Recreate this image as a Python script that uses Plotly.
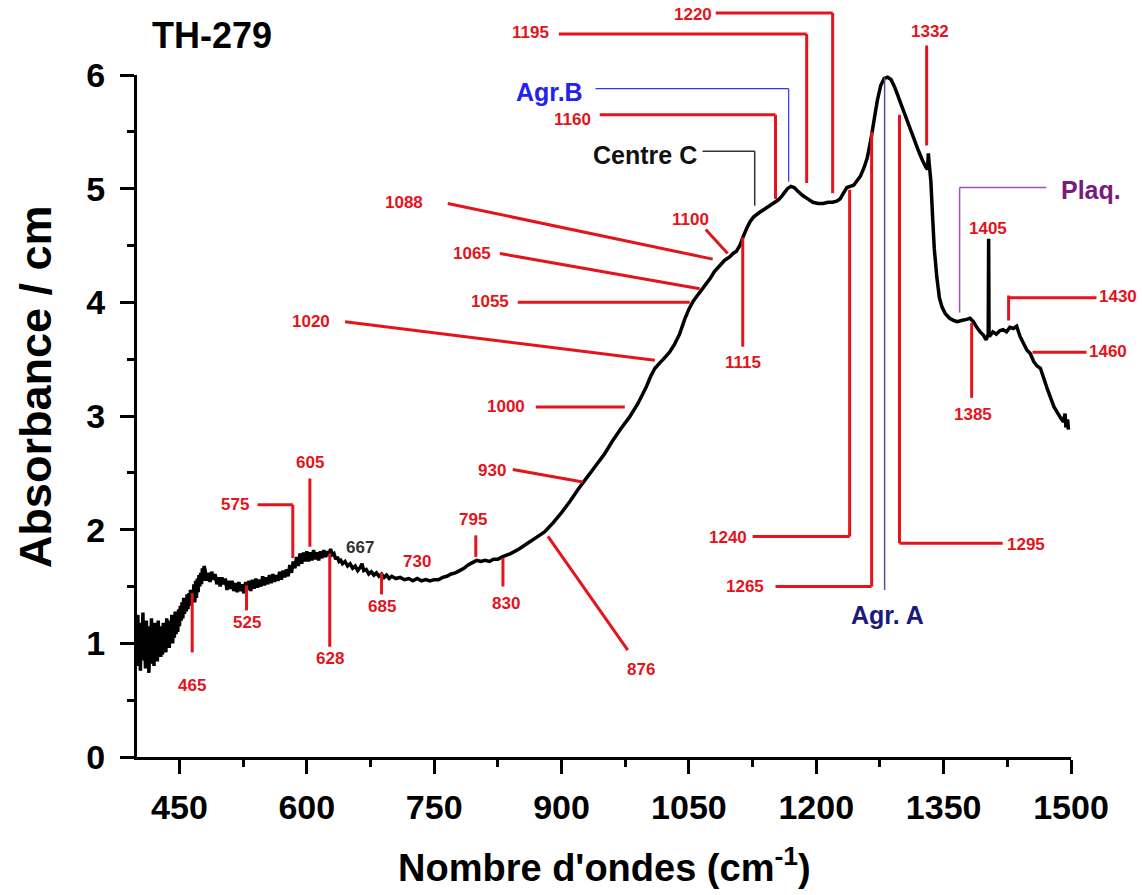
import plotly.graph_objects as go

# ---------------- data ----------------
wavenumber = [
    # 400-479, 1 cm-1 steps (noisy region)
    400, 401, 402, 403, 404, 405, 406, 407, 408, 409, 410, 411, 412, 413, 414, 415,
    416, 417, 418, 419, 420, 421, 422, 423, 424, 425, 426, 427, 428, 429, 430, 431,
    432, 433, 434, 435, 436, 437, 438, 439, 440, 441, 442, 443, 444, 445, 446, 447,
    448, 449, 450, 451, 452, 453, 454, 455, 456, 457, 458, 459, 460, 461, 462, 463,
    464, 465, 466, 467, 468, 469, 470, 471, 472, 473, 474, 475, 476, 477, 478, 479,
    # 480-640, 2 cm-1 steps
    480, 482, 484, 486, 488, 490, 492, 494, 496, 498, 500, 502, 504, 506, 508, 510,
    512, 514, 516, 518, 520, 522, 524, 526, 528, 530, 532, 534, 536, 538, 540, 542,
    544, 546, 548, 550, 552, 554, 556, 558, 560, 562, 564, 566, 568, 570, 572, 574,
    576, 578, 580, 582, 584, 586, 588, 590, 592, 594, 596, 598, 600, 602, 604, 606,
    608, 610, 612, 614, 616, 618, 620, 622, 624, 626, 628, 630, 632, 634, 636, 638, 640,
    # 642-700, ~3 cm-1 steps
    642, 645, 648, 651, 654, 657, 660, 663, 665, 667, 670, 673, 676, 679, 682, 685,
    688, 691, 694, 697, 700,
    # 705-830
    705, 710, 715, 720, 725, 730, 735, 740, 745, 750, 755, 760, 765, 770, 775, 780,
    785, 790, 795, 800, 805, 810, 815, 820, 825, 830,
    # 840-1497
    840, 850, 860, 870, 880, 890, 900, 910, 920, 930, 940, 950, 960, 970, 980, 990,
    1000, 1005, 1010, 1016, 1020, 1027, 1033, 1039, 1045, 1050, 1055, 1060, 1065,
    1070, 1075, 1080, 1086, 1092, 1098, 1102, 1106, 1110, 1114, 1118, 1122, 1126,
    1133, 1141, 1149, 1155, 1159, 1163, 1166, 1170, 1174, 1178, 1184, 1190, 1196,
    1202, 1208, 1214, 1219, 1224, 1228, 1232, 1236, 1240, 1244, 1248, 1252, 1256,
    1260, 1264, 1268, 1272, 1276, 1280, 1284, 1288, 1292, 1296, 1300, 1305, 1310,
    1315, 1320, 1325, 1329, 1331, 1332, 1333, 1335, 1337, 1339, 1342, 1345, 1348,
    1352, 1357, 1362, 1366, 1371, 1377, 1381, 1385, 1389, 1393, 1397, 1400, 1402.5,
    1403, 1403.5, 1405, 1408, 1412, 1416, 1420, 1424, 1428, 1432, 1436, 1440, 1444,
    1448, 1452, 1456, 1460, 1464, 1468, 1472, 1476, 1480, 1484, 1488, 1491, 1493,
    1494, 1496, 1497,
]
absorbance = [
    # 400-479
    1.00, 1.25, 0.80, 1.10, 0.76, 1.18, 0.92, 1.27, 0.85, 1.05, 0.78, 1.20, 0.88, 1.15, 0.74, 1.02,
    0.82, 1.22, 0.95, 1.10, 0.80, 1.18, 0.90, 1.05, 0.84, 1.20, 0.98, 1.15, 0.88, 1.12, 0.90, 1.18,
    0.95, 1.08, 0.92, 1.22, 1.00, 1.15, 0.96, 1.20, 1.02, 1.25, 1.00, 1.18, 1.05, 1.28, 1.08, 1.22,
    1.10, 1.30, 1.15, 1.33, 1.20, 1.36, 1.22, 1.40, 1.26, 1.38, 1.28, 1.43, 1.30, 1.44, 1.33, 1.47,
    1.35, 1.45, 1.38, 1.52, 1.36, 1.55, 1.40, 1.57, 1.45, 1.60, 1.50, 1.62, 1.52, 1.66, 1.55, 1.68,
    # 480-640
    1.65, 1.55, 1.62, 1.54, 1.63, 1.56, 1.61, 1.52, 1.58, 1.50, 1.58, 1.52, 1.57, 1.47, 1.55, 1.48,
    1.55, 1.46, 1.53, 1.45, 1.54, 1.46, 1.52, 1.44, 1.54, 1.47, 1.55, 1.46, 1.56, 1.48, 1.57, 1.49,
    1.56, 1.50, 1.59, 1.51, 1.58, 1.52, 1.60, 1.53, 1.61, 1.54, 1.60, 1.55, 1.63, 1.56, 1.64, 1.58,
    1.65, 1.59, 1.69, 1.62, 1.72, 1.66, 1.76, 1.68, 1.79, 1.70, 1.80, 1.72, 1.81, 1.72, 1.80, 1.73,
    1.82, 1.74, 1.80, 1.73, 1.81, 1.75, 1.82, 1.76, 1.81, 1.77, 1.83, 1.78, 1.79, 1.74, 1.76, 1.72, 1.73,
    # 642-700
    1.70, 1.72, 1.68, 1.70, 1.66, 1.68, 1.64, 1.67, 1.70, 1.64, 1.65, 1.61, 1.63, 1.60, 1.62, 1.59,
    1.61, 1.58, 1.60, 1.57, 1.59,
    # 705-830
    1.57, 1.58, 1.56, 1.57, 1.55, 1.57, 1.55, 1.56, 1.55, 1.56, 1.56, 1.58, 1.59, 1.61, 1.62, 1.64,
    1.66, 1.69, 1.71, 1.73, 1.72, 1.73, 1.72, 1.74, 1.74, 1.76,
    # 840-1497
    1.79, 1.83, 1.88, 1.93, 1.98, 2.06, 2.15, 2.25, 2.36, 2.46, 2.56, 2.66, 2.78, 2.89, 2.99, 3.11,
    3.26, 3.35, 3.42, 3.47, 3.50, 3.56, 3.63, 3.72, 3.85, 3.94, 4.01, 4.06, 4.11,
    4.16, 4.21, 4.27, 4.32, 4.37, 4.40, 4.43, 4.45, 4.50, 4.58, 4.65, 4.71, 4.75,
    4.79, 4.83, 4.87, 4.90, 4.93, 4.97, 5.00, 5.02, 5.01, 4.98, 4.94, 4.91, 4.88,
    4.87, 4.87, 4.88, 4.88, 4.89, 4.91, 4.96, 5.01, 5.02, 5.03, 5.07, 5.11, 5.18,
    5.27, 5.42, 5.60, 5.78, 5.91, 5.97, 5.98, 5.96, 5.90, 5.82, 5.74, 5.64, 5.54,
    5.44, 5.34, 5.25, 5.19, 5.17, 5.31, 5.22, 5.06, 4.75, 4.47, 4.22, 4.04, 3.96,
    3.90, 3.86, 3.84, 3.83, 3.84, 3.85, 3.86, 3.83, 3.78, 3.74, 3.71, 3.67, 3.72,
    4.56, 3.70, 3.71, 3.74, 3.72, 3.75, 3.76, 3.74, 3.78, 3.77, 3.79, 3.70, 3.64,
    3.58, 3.55, 3.48, 3.44, 3.42, 3.33, 3.24, 3.16, 3.08, 3.03, 2.98, 2.95, 3.02,
    2.90, 2.97, 2.88,
]

x_ticks = [450, 600, 750, 900, 1050, 1200, 1350, 1500]
y_ticks = [0, 1, 2, 3, 4, 5, 6]

X_RANGE = [400, 1500]
Y_RANGE = [0, 6]

# band labels: (text, label x, label y)  -- positions in data units
band_labels = [
    ("465", 465, 0.63), ("525", 529, 1.18), ("575", 515, 2.22), ("605", 604, 2.59),
    ("628", 627, 0.87), ("685", 688, 1.32), ("730", 730, 1.72), ("795", 796, 2.09),
    ("830", 834, 1.35), ("876", 993, 0.77), ("930", 818, 2.52), ("1000", 834, 3.08),
    ("1020", 605, 3.83), ("1055", 816, 4.01), ("1065", 795, 4.43), ("1088", 714, 4.88),
    ("1100", 1052, 4.73), ("1115", 1114, 3.47), ("1160", 913, 5.61), ("1195", 863, 6.37),
    ("1220", 1055, 6.53), ("1240", 1096, 1.93), ("1265", 1116, 1.50), ("1295", 1447, 1.87),
    ("1332", 1334, 6.38), ("1405", 1402, 4.65), ("1385", 1385, 3.01), ("1430", 1555, 4.05),
    ("1460", 1543, 3.57),
]

RED = "#e3141b"
FONT = "Liberation Sans, Arial, sans-serif"

# leader polylines: (colour, width, [(wn, A), ...])
leaders = [
    (RED, 3, [(465, 1.44), (465, 0.92)]),
    (RED, 3, [(529, 1.51), (529, 1.29)]),
    (RED, 3, [(542, 2.22), (583.5, 2.22), (583.5, 1.75)]),
    (RED, 3, [(603.6, 2.45), (603.6, 1.85)]),
    (RED, 3, [(627, 1.79), (627, 0.97)]),
    (RED, 3, [(688, 1.62), (688, 1.43)]),
    (RED, 3, [(799, 1.95), (799, 1.76)]),
    (RED, 3, [(831, 1.75), (831, 1.50)]),
    (RED, 3, [(884, 1.94), (978, 0.94)]),
    (RED, 3, [(842.6, 2.53), (925, 2.42)]),
    (RED, 3, [(869.7, 3.08), (974.5, 3.08)]),
    (RED, 3, [(645, 3.83), (1009.8, 3.49)]),
    (RED, 3, [(848.5, 4.00), (1051, 4.00)]),
    (RED, 3, [(827.3, 4.43), (1062.7, 4.12)]),
    (RED, 3, [(766, 4.87), (1078, 4.38)]),
    (RED, 3, [(1069.8, 4.64), (1095.7, 4.43)]),
    (RED, 3, [(1113.4, 4.57), (1113.4, 3.61)]),
    ("#333333", 1.5, [(1066, 5.33), (1127.5, 5.33), (1127.5, 4.85)]),
    (RED, 3, [(945, 5.65), (1152, 5.65), (1152, 4.91)]),
    ("#3333ee", 1.2, [(940, 5.88), (1167.5, 5.88), (1167.5, 5.06)]),
    (RED, 3, [(896.8, 6.36), (1188.7, 6.36), (1188.7, 5.05)]),
    (RED, 3, [(1081.6, 6.545), (1219.3, 6.545), (1219.3, 4.96)]),
    (RED, 3, [(1125, 1.94), (1239.3, 1.94), (1239.3, 4.99)]),
    (RED, 3, [(1152, 1.50), (1265.2, 1.50), (1265.2, 5.50)]),
    ("#50509a", 1.5, [(1280.5, 1.47), (1280.5, 5.98)]),
    (RED, 3, [(1419.5, 1.88), (1298, 1.88), (1298, 5.65)]),
    (RED, 3, [(1330, 6.26), (1330, 5.38)]),
    ("#9b55b5", 1.5, [(1471, 5.01), (1368.8, 5.01), (1368.8, 3.91)]),
    (RED, 3, [(1383, 3.82), (1383, 3.16)]),
    (RED, 3, [(1426.5, 4.06), (1426.5, 3.84)]),
    (RED, 3, [(1426.5, 4.04), (1530, 4.04)]),
    (RED, 3, [(1454.7, 3.56), (1518.3, 3.56)]),
]

# group labels: (text, x, y, colour)
group_labels = [
    ("Centre C", 998, 5.30, "#111111"),
    ("Agr.B", 886, 5.85, "#2222ee"),
    ("Agr. A", 1283.5, 1.25, "#1a1a7a"),
    ("Plaq.", 1523, 4.99, "#7a1a7a"),
]


def fx(w):
    return (w - X_RANGE[0]) / (X_RANGE[1] - X_RANGE[0])


def fy(a):
    return (a - Y_RANGE[0]) / (Y_RANGE[1] - Y_RANGE[0])


fig = go.Figure()
fig.add_trace(go.Scatter(
    x=wavenumber, y=absorbance, mode="lines",
    line=dict(color="black", width=3.5, simplify=False), showlegend=False, hoverinfo="skip",
))

shapes = []
for colour, width, pts in leaders:
    for (w0, a0), (w1, a1) in zip(pts[:-1], pts[1:]):
        shapes.append(dict(type="line", xref="paper", yref="paper",
                           x0=fx(w0), y0=fy(a0), x1=fx(w1), y1=fy(a1),
                           line=dict(color=colour, width=width), layer="above"))

annotations = []
for text, w, a in band_labels:
    annotations.append(dict(text=f"<b>{text}</b>", x=fx(w), y=fy(a), xref="paper", yref="paper",
                            showarrow=False, xanchor="center", yanchor="middle",
                            font=dict(family=FONT, size=17, color=RED)))
annotations.append(dict(text="<b>667</b>", x=fx(662.5), y=fy(1.84), xref="paper", yref="paper",
                        showarrow=False, xanchor="center", yanchor="middle",
                        font=dict(family=FONT, size=17, color="#333333")))
for text, w, a, colour in group_labels:
    annotations.append(dict(text=f"<b>{text}</b>", x=fx(w), y=fy(a), xref="paper", yref="paper",
                            showarrow=False, xanchor="center", yanchor="middle",
                            font=dict(family=FONT, size=25, color=colour)))

# titles
annotations.append(dict(text="<b>TH-279</b>", x=fx(415), y=fy(6.35), xref="paper", yref="paper",
                        showarrow=False, xanchor="left", yanchor="middle",
                        font=dict(family=FONT, size=36, color="black")))
annotations.append(dict(text="<b>Absorbance / cm</b>", x=fx(280), y=fy(3.255), xref="paper", yref="paper",
                        showarrow=False, xanchor="center", yanchor="middle", textangle=-90,
                        font=dict(family=FONT, size=45, color="black")))
annotations.append(dict(text="<b>Nombre d'ondes (cm<sup>-1</sup>)</b>", x=fx(951), y=fy(-0.95),
                        xref="paper", yref="paper", showarrow=False, xanchor="center", yanchor="middle",
                        font=dict(family=FONT, size=38, color="black")))

fig.update_layout(
    width=1142, height=895,
    margin=dict(l=137, r=71, t=75, b=138),
    paper_bgcolor="white", plot_bgcolor="white",
    shapes=shapes, annotations=annotations,
    xaxis=dict(range=X_RANGE, tickvals=x_ticks, ticktext=[str(v) for v in x_ticks],
               showgrid=False, zeroline=False, showline=True, linecolor="black", linewidth=3,
               ticks="outside", ticklen=14, tickwidth=3, tickcolor="black",
               minor=dict(tickvals=[525, 675, 825, 975, 1125, 1275, 1425], ticks="outside",
                          ticklen=7, tickwidth=3, tickcolor="black"),
               tickfont=dict(family=FONT, size=34, color="black", weight="bold"),
               ticklabelstandoff=4),
    yaxis=dict(range=Y_RANGE, tickvals=y_ticks, ticktext=[str(v) for v in y_ticks],
               showgrid=False, zeroline=False, showline=True, linecolor="black", linewidth=3,
               ticks="outside", ticklen=14, tickwidth=3, tickcolor="black",
               minor=dict(tickvals=[0.5, 1.5, 2.5, 3.5, 4.5, 5.5], ticks="outside",
                          ticklen=7, tickwidth=3, tickcolor="black"),
               tickfont=dict(family=FONT, size=34, color="black", weight="bold"),
               ticklabelstandoff=8),
)

fig.write_html("out.html", config={"displayModeBar": False},
               post_script="document.body.style.margin='0';")
